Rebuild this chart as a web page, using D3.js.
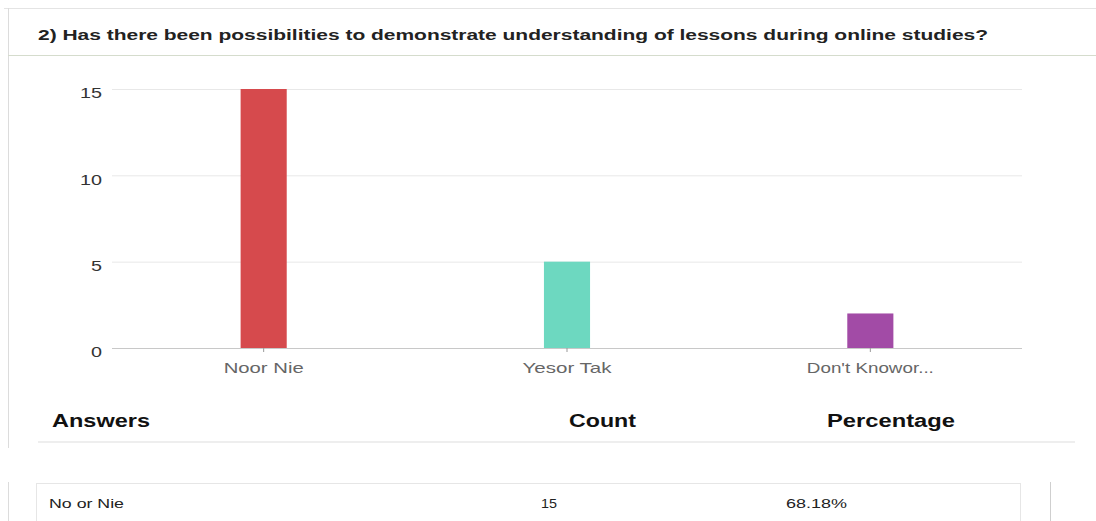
<!DOCTYPE html>
<html>
<head>
<meta charset="utf-8">
<script src="https://cdn.jsdelivr.net/npm/d3@7"></script>
<style>
html,body{margin:0;padding:0;background:#fff;}
svg{display:block;font-family:"Liberation Sans",Arial,sans-serif;}
</style>
</head>
<body>
<svg id="chart" width="1096" height="521"></svg>
<script>
const title = "2)  Has there been possibilities to demonstrate understanding of lessons during online studies?";
const categories = ["NoorNie", "YesorTak", "DontKnow"];
const categoryLabels = ["Noor Nie", "Yesor Tak", "Don't Knowor..."];
const counts = [15, 5, 2];
const barColors = ["#d64a4d", "#6dd8c0", "#a24ba6"];
const yTicks = [0, 5, 10, 15];
const tableHeaders = ["Answers", "Count", "Percentage"];
const tableRowAnswer = ["No or Nie"];
const tableRowCount = ["15"];
const tableRowPct = ["68.18%"];

const svg = d3.select("#chart");

// panel frame
svg.append("line").attr("x1",4).attr("x2",1096).attr("y1",8.5).attr("y2",8.5).attr("stroke","#e4e4e4");
svg.append("line").attr("x1",8.5).attr("x2",8.5).attr("y1",8).attr("y2",448).attr("stroke","#dcdcdc");
svg.append("line").attr("x1",8).attr("x2",1096).attr("y1",55.5).attr("y2",55.5).attr("stroke","#d5dccd");

// title
svg.append("text").attr("x",38).attr("y",40).attr("font-size",14).attr("font-weight","bold")
  .attr("fill","#222").attr("textLength",950).attr("lengthAdjust","spacingAndGlyphs").text(title);

const x = d3.scaleBand().domain(categories).range([112,1022]).padding(0);
const y = d3.scaleLinear().domain([0,15]).range([348,89]);
const barW = x.bandwidth()*0.152;

// gridlines
const gy = svg.append("g").attr("transform","translate(112,0)")
  .call(d3.axisLeft(y).tickValues(yTicks).tickSize(-910).tickFormat(""));
gy.select(".domain").remove();
gy.selectAll(".tick line").attr("stroke", d => d===0 ? "#c8c8c8" : "#e8e8e8");

// y labels
const ya = svg.append("g").attr("transform","translate(102,4)")
  .call(d3.axisLeft(y).tickValues(yTicks).tickSize(0).tickPadding(0));
ya.select(".domain").remove();
ya.selectAll("text").attr("font-size",15.5).attr("fill","#333").attr("font-family","'Liberation Sans',Arial,sans-serif")
  .attr("textLength", d => String(d).length*11).attr("lengthAdjust","spacingAndGlyphs");

// bars
svg.append("g").selectAll("rect").data(categories).join("rect")
  .attr("x", (d)=> x(d) + (x.bandwidth()-barW)/2)
  .attr("width", barW)
  .attr("y", (d,i)=> y(counts[i]))
  .attr("height", (d,i)=> y(0)-y(counts[i]))
  .attr("fill", (d,i)=> barColors[i]);

// x axis
const xa = svg.append("g").attr("transform","translate(0,348)")
  .call(d3.axisBottom(x).tickSize(4).tickPadding(10).tickFormat((d,i)=>categoryLabels[i]));
xa.select(".domain").remove();
xa.selectAll(".tick line").attr("stroke","#999");
xa.selectAll("text").attr("font-size",15).attr("fill","#666").attr("font-family","'Liberation Sans',Arial,sans-serif")
  .attr("textLength",(d,i)=>[80,89,127][i]).attr("lengthAdjust","spacingAndGlyphs");

// table header
const hx = [52, 569, 827];
const hw = [98, 67, 128];
svg.append("g").selectAll("text").data(tableHeaders).join("text")
  .attr("x",(d,i)=>hx[i]).attr("y",427).attr("font-size",18).attr("font-weight","bold").attr("fill","#111")
  .attr("textLength",(d,i)=>hw[i]).attr("lengthAdjust","spacingAndGlyphs").text(d=>d);
svg.append("line").attr("x1",38).attr("x2",1075).attr("y1",442).attr("y2",442).attr("stroke","#eeeeee").attr("stroke-width",2);

// lower row
svg.append("line").attr("x1",8.5).attr("x2",8.5).attr("y1",482).attr("y2",521).attr("stroke","#dcdcdc");
svg.append("line").attr("x1",1050.5).attr("x2",1050.5).attr("y1",482).attr("y2",521).attr("stroke","#cfcfcf");
svg.append("rect").attr("x",36.5).attr("y",483.5).attr("width",984).attr("height",50).attr("fill","none").attr("stroke","#e6e6e6");
const rowVals = [tableRowAnswer[0], tableRowCount[0], tableRowPct[0]];
const rx = [49, 541, 786];
const rw = [75, 16, 61];
svg.append("g").selectAll("text").data(rowVals).join("text")
  .attr("x",(d,i)=>rx[i]).attr("y",508).attr("font-size",13.5).attr("fill","#222")
  .attr("textLength",(d,i)=>rw[i]).attr("lengthAdjust","spacingAndGlyphs")
  .text(d=>d);
</script>
</body>
</html>
